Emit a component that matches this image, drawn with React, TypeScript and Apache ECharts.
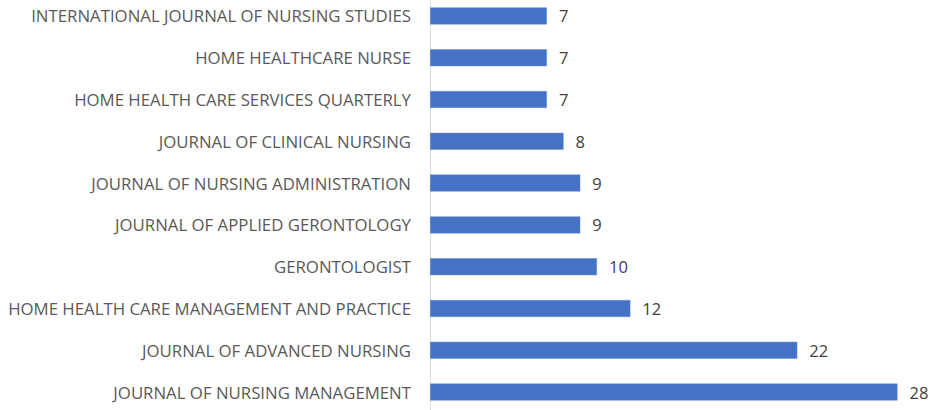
import React, { useEffect, useRef } from "react";
import * as echarts from "echarts";

const categories = [
  "INTERNATIONAL JOURNAL OF NURSING STUDIES",
  "HOME HEALTHCARE NURSE",
  "HOME HEALTH CARE SERVICES QUARTERLY",
  "JOURNAL OF CLINICAL NURSING",
  "JOURNAL OF NURSING ADMINISTRATION",
  "JOURNAL OF APPLIED GERONTOLOGY",
  "GERONTOLOGIST",
  "HOME HEALTH CARE MANAGEMENT AND PRACTICE",
  "JOURNAL OF ADVANCED NURSING",
  "JOURNAL OF NURSING MANAGEMENT",
];
const values = [7, 7, 7, 8, 9, 9, 10, 12, 22, 28];

export default function App() {
  const ref = useRef<HTMLDivElement>(null);
  useEffect(() => {
    const chart = echarts.init(ref.current!, undefined, { renderer: "svg" });
    chart.setOption({
      animation: false,
      grid: { left: 430, right: 40.5, top: 0, height: 418, containLabel: false },
      xAxis: {
        type: "value",
        min: 0,
        max: 28,
        show: false,
        splitLine: { show: false },
      },
      yAxis: {
        type: "category",
        inverse: true,
        data: categories,
        axisLine: { show: true, lineStyle: { color: "#d9d9d9", width: 1 } },
        axisTick: { show: false },
        axisLabel: {
          color: "#595959",
          fontFamily: "Open Sans",
          fontSize: 16.8,
          margin: 19,
        },
      },
      series: [
        {
          type: "bar",
          data: values,
          barWidth: 17,
          itemStyle: { color: "#4472C4", borderColor: "#6a8fd0", borderWidth: 0.5 },
          label: {
            show: true,
            position: "right",
            distance: 12,
            color: "#404040",
            fontFamily: "Open Sans",
            fontSize: 16.5,
          },
        },
      ],
    });
    return () => chart.dispose();
  }, []);
  return (
    <div
      ref={ref}
      style={{ position: "fixed", left: 0, top: -5, width: 938, height: 420, background: "#fff" }}
    />
  );
}
